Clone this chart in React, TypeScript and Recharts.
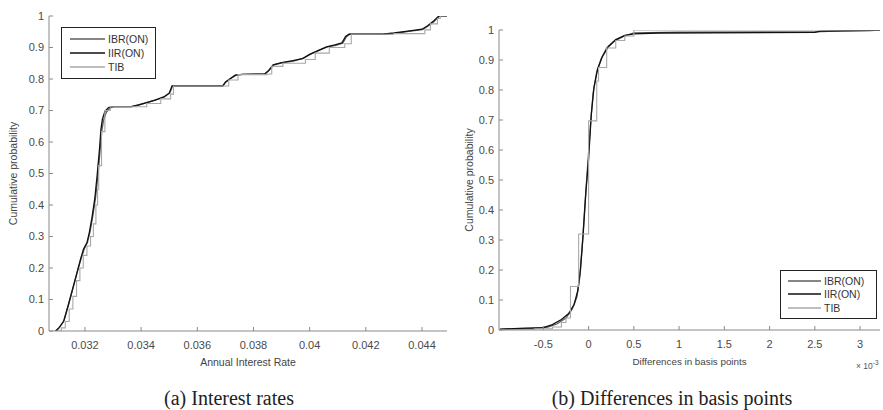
import React from "react";
import { LineChart, Line, XAxis, YAxis, Legend } from "recharts";

// ---------- data: panel (a) Interest rates ----------
const rateTicks = [0.032, 0.034, 0.036, 0.038, 0.04, 0.042, 0.044];
const probTicks = [0, 0.1, 0.2, 0.3, 0.4, 0.5, 0.6, 0.7, 0.8, 0.9, 1];

const rateIBR: [number, number][] = [
  [0.03098, 0], [0.03110, 0.012], [0.03126, 0.035], [0.03142, 0.085], [0.03157, 0.135],
  [0.03172, 0.185], [0.03187, 0.232], [0.03198, 0.262], [0.03209, 0.282], [0.03218, 0.315],
  [0.03228, 0.365], [0.03238, 0.425], [0.03247, 0.5], [0.03254, 0.575], [0.03260, 0.635],
  [0.03266, 0.668], [0.03276, 0.694], [0.03289, 0.708], [0.03302, 0.712], [0.03366, 0.712],
  [0.03392, 0.717], [0.03422, 0.726], [0.03452, 0.734], [0.03482, 0.742], [0.03502, 0.756],
  [0.03512, 0.778], [0.03692, 0.778], [0.03702, 0.791], [0.03718, 0.801], [0.03738, 0.812],
  [0.03762, 0.815], [0.03842, 0.816], [0.03857, 0.829], [0.03873, 0.845], [0.03902, 0.851],
  [0.03942, 0.857], [0.03978, 0.866], [0.04003, 0.879], [0.04033, 0.891], [0.04063, 0.902],
  [0.04093, 0.907], [0.04118, 0.914], [0.04131, 0.934], [0.04143, 0.942], [0.04262, 0.942],
  [0.04302, 0.945], [0.04352, 0.951], [0.04402, 0.957], [0.04422, 0.968], [0.04442, 0.982],
  [0.04462, 1.0], [0.04489, 1.0],
];
const rateIIR: [number, number][] = [
  [0.03095, 0], [0.03107, 0.01], [0.03124, 0.03], [0.03140, 0.08], [0.03155, 0.13],
  [0.03170, 0.18], [0.03185, 0.23], [0.03195, 0.26], [0.03207, 0.28], [0.03215, 0.31],
  [0.03225, 0.36], [0.03235, 0.42], [0.03244, 0.5], [0.03252, 0.58], [0.03257, 0.64],
  [0.03262, 0.672], [0.03271, 0.697], [0.03284, 0.709], [0.03300, 0.712], [0.03365, 0.712],
  [0.03390, 0.718], [0.03420, 0.725], [0.03450, 0.733], [0.03480, 0.743], [0.03500, 0.755],
  [0.03510, 0.778], [0.03690, 0.778], [0.03700, 0.790], [0.03715, 0.800], [0.03735, 0.812],
  [0.03760, 0.815], [0.03840, 0.816], [0.03855, 0.828], [0.03870, 0.845], [0.03900, 0.852],
  [0.03940, 0.858], [0.03975, 0.865], [0.04000, 0.878], [0.04030, 0.890], [0.04060, 0.902],
  [0.04090, 0.908], [0.04115, 0.915], [0.04128, 0.935], [0.04140, 0.942], [0.04260, 0.942],
  [0.04300, 0.946], [0.04350, 0.952], [0.04400, 0.958], [0.04420, 0.969], [0.04440, 0.983],
  [0.04460, 1.0], [0.04489, 1.0],
];
const rateTIB: [number, number][] = [
  [0.03100, 0], [0.03116, 0.01], [0.03130, 0.03], [0.03144, 0.07], [0.03157, 0.11],
  [0.03170, 0.16], [0.03182, 0.2], [0.03194, 0.24], [0.03207, 0.27], [0.03220, 0.3],
  [0.03230, 0.34], [0.03239, 0.4], [0.03245, 0.45], [0.03249, 0.525], [0.03259, 0.633],
  [0.03271, 0.7], [0.03290, 0.712], [0.03372, 0.712], [0.03420, 0.722], [0.03470, 0.737],
  [0.03505, 0.752], [0.03515, 0.778], [0.03695, 0.778], [0.03712, 0.797], [0.03745, 0.814],
  [0.03848, 0.816], [0.03865, 0.84], [0.03905, 0.85], [0.03985, 0.862], [0.04020, 0.882],
  [0.04070, 0.9], [0.04125, 0.912], [0.04148, 0.942], [0.04300, 0.944], [0.04410, 0.956],
  [0.04430, 0.975], [0.04455, 0.992], [0.04465, 1.0], [0.04489, 1.0],
];

// ---------- data: panel (b) Differences in basis points (x 10^-3) ----------
const diffTicks = [-0.5, 0, 0.5, 1, 1.5, 2, 2.5, 3];

const diffIBR: [number, number][] = [
  [-0.98, 0.002], [-0.6, 0.005], [-0.45, 0.01], [-0.35, 0.02], [-0.25, 0.04],
  [-0.18, 0.07], [-0.13, 0.11], [-0.1, 0.17], [-0.07, 0.28], [-0.04, 0.42],
  [-0.01, 0.55], [0.02, 0.68], [0.05, 0.79], [0.09, 0.86], [0.14, 0.905],
  [0.2, 0.94], [0.28, 0.962], [0.38, 0.978], [0.5, 0.99], [1.0, 0.993],
  [2.5, 0.994], [2.8, 0.997], [3.22, 1.0],
];
const diffIIR: [number, number][] = [
  [-0.98, 0.003], [-0.7, 0.006], [-0.5, 0.008], [-0.4, 0.018], [-0.3, 0.035],
  [-0.22, 0.055], [-0.16, 0.085], [-0.12, 0.13], [-0.09, 0.2], [-0.06, 0.32],
  [-0.03, 0.46], [0.0, 0.57], [0.03, 0.72], [0.06, 0.81], [0.1, 0.87],
  [0.15, 0.91], [0.22, 0.945], [0.3, 0.968], [0.4, 0.982], [0.5, 0.987],
  [0.77, 0.99], [2.5, 0.992], [2.56, 0.996], [3.1, 0.998], [3.22, 1.0],
];
const diffTIB: [number, number][] = [
  [-0.98, 0.0], [-0.6, 0.004], [-0.4, 0.01], [-0.3, 0.025], [-0.25, 0.04],
  [-0.2, 0.145], [-0.11, 0.32], [0.0, 0.697], [0.09, 0.83], [0.11, 0.875],
  [0.2, 0.94], [0.3, 0.965], [0.4, 0.98], [0.5, 1.0], [3.22, 1.0],
];

const toPts = (arr: [number, number][]) => arr.map(([x, y]) => ({ x, y }));

const COLORS = { IBR: "#5e5e5e", IIR: "#111111", TIB: "#a8a8a8" };
const FONT = "'Liberation Sans', Arial, sans-serif";
const AXIS = "#8a8a8a";
const TICKTXT = { fontSize: 11, fill: "#4a4a4a", fontFamily: FONT };

function LegendBox(props: any) {
  const { payload, w, h, rows, lx1, lx2, tx } = props;
  return (
    <svg width={w} height={h} style={{ display: "block" }}>
      <rect x={0.5} y={0.5} width={w - 1} height={h - 1} fill="#fff" stroke="#222" strokeWidth={1} />
      {(payload || []).map((p: any, i: number) => (
        <g key={i}>
          <line x1={lx1} x2={lx2} y1={rows[i]} y2={rows[i]} stroke={p.color} strokeWidth={1.3} />
          <text x={tx} y={rows[i]} dy="0.35em" fontSize={10.5} fill="#333" fontFamily={FONT}>
            {p.value}
          </text>
        </g>
      ))}
    </svg>
  );
}

const yLabel = (dx: number) => (props: any) => {
  const vb = props.viewBox;
  const x = vb.x + dx;
  const y = vb.y + vb.height / 2;
  return (
    <text x={x} y={y} dy="0.35em" transform={`rotate(-90 ${x} ${y})`} textAnchor="middle"
      fontSize={10.5} fill="#444" fontFamily={FONT}>
      Cumulative probability
    </text>
  );
};

const xLabel = (text: string, exp: boolean) => (props: any) => {
  const vb = props.viewBox;
  const cx = vb.x + vb.width / 2;
  return (
    <g>
      <text x={cx} y={vb.y + 35} textAnchor="middle" fontSize={exp ? 9.8 : 10.5} fill="#444" fontFamily={FONT}>
        {text}
      </text>
      {exp && (
        <text x={vb.x + vb.width - 24} y={vb.y + 39} fontSize={8.5} fill="#555" fontFamily={FONT}>
          {"\u00d7 10"}
          <tspan dy={-4} fontSize={6.5}>-3</tspan>
        </text>
      )}
    </g>
  );
};

function Panel(props: any) {
  const { width, height, margin, yw, xDomain, xTicks, series, legend, xText, exp, ylDx } = props;
  return (
    <LineChart width={width} height={height} margin={margin}>
      <XAxis xAxisId="b" type="number" dataKey="x" domain={xDomain} ticks={xTicks} allowDataOverflow
        height={40} stroke={AXIS} tickSize={-4} tickMargin={14} tick={TICKTXT} interval={0}
        label={xLabel(xText, exp)} />
      <XAxis xAxisId="t" orientation="top" type="number" dataKey="x" domain={xDomain} ticks={xTicks}
        allowDataOverflow height={0} stroke={AXIS} tickSize={-4} tick={false} interval={0} />
      <YAxis yAxisId="l" type="number" domain={[0, 1]} ticks={probTicks} allowDataOverflow width={yw}
        stroke={AXIS} tickSize={-4} tickMargin={9} tick={TICKTXT} interval={0} label={yLabel(ylDx)} />
      <YAxis yAxisId="r" orientation="right" type="number" domain={[0, 1]} ticks={probTicks}
        allowDataOverflow width={0} stroke={AXIS} tickSize={-4} tick={false} interval={0} />
      {series.map((s: any) => (
        <Line key={s.name} xAxisId="b" yAxisId="l" name={s.name} data={s.data} dataKey="y"
          type={s.type} stroke={s.color} strokeWidth={s.width} dot={false} isAnimationActive={false} />
      ))}
      <Legend layout="vertical" align="center" verticalAlign="middle"
        wrapperStyle={{ left: legend.left, top: legend.top, width: legend.w, height: legend.h }}
        content={(p: any) => <LegendBox payload={p.payload} {...legend} />} />
    </LineChart>
  );
}

export default function App() {
  const seriesA = [
    { name: "IBR(ON)", data: toPts(rateIBR), color: COLORS.IBR, type: "linear", width: 1.3 },
    { name: "IIR(ON)", data: toPts(rateIIR), color: COLORS.IIR, type: "linear", width: 1.3 },
    { name: "TIB", data: toPts(rateTIB), color: COLORS.TIB, type: "stepAfter", width: 1.1 },
  ];
  const seriesB = [
    { name: "IBR(ON)", data: toPts(diffIBR), color: COLORS.IBR, type: "linear", width: 1.3 },
    { name: "IIR(ON)", data: toPts(diffIIR), color: COLORS.IIR, type: "linear", width: 1.3 },
    { name: "TIB", data: toPts(diffTIB), color: COLORS.TIB, type: "stepAfter", width: 1.1 },
  ];
  const capStyle: React.CSSProperties = {
    position: "absolute", top: 386, height: 24, lineHeight: "24px", fontSize: 20,
    fontFamily: "'Liberation Serif', 'Times New Roman', serif", color: "#222",
    textAlign: "center", whiteSpace: "nowrap",
  };
  return (
    <div style={{ position: "absolute", left: 0, top: 0, width: 883, height: 410, background: "#fff", overflow: "hidden" }}>
      <div style={{ position: "absolute", left: 0, top: 0 }}>
        <Panel width={460} height={375} margin={{ top: 16, right: 13, bottom: 4, left: 9 }} yw={40}
          xDomain={[0.03072, 0.04489]} xTicks={rateTicks} series={seriesA} xText="Annual Interest Rate"
          exp={false} ylDx={4}
          legend={{ left: 61, top: 27, w: 95, h: 52, rows: [12, 26, 40], lx1: 9, lx2: 44, tx: 47 }} />
      </div>
      <div style={{ position: "absolute", left: 440, top: 0 }}>
        <Panel width={443} height={375} margin={{ top: 30, right: 3, bottom: 5, left: 15 }} yw={44}
          xDomain={[-0.99, 3.22]} xTicks={diffTicks} series={seriesB} xText="Differences in basis points"
          exp={true} ylDx={14}
          legend={{ left: 340, top: 270, w: 97, h: 49, rows: [11, 24, 38], lx1: 8, lx2: 41, tx: 44 }} />
      </div>
      <div style={{ ...capStyle, left: 129, width: 200 }}>(a) Interest rates</div>
      <div style={{ ...capStyle, left: 522, width: 300 }}>(b) Differences in basis points</div>
    </div>
  );
}
